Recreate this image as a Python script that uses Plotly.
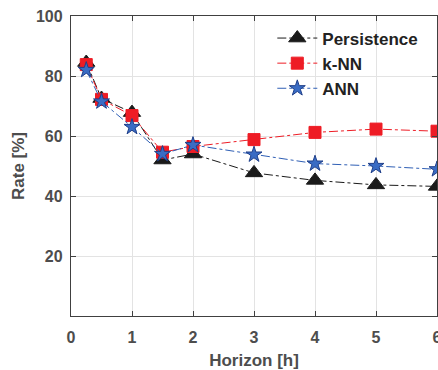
import plotly.graph_objects as go

horizon = [0.25, 0.5, 1, 1.5, 2, 3, 4, 5, 6]
persistence = [84.5, 72.5, 67.8, 52.0, 54.0, 47.7, 45.2, 43.7, 43.2]
knn = [83.8, 72.2, 66.8, 54.6, 56.5, 58.8, 61.2, 62.3, 61.6]
ann = [82.0, 71.5, 63.0, 54.0, 57.0, 53.8, 50.8, 50.0, 48.9]

x_ticks = [0, 1, 2, 3, 4, 5, 6]
y_ticks = [20, 40, 60, 80, 100]

FONT = "Liberation Sans, Arial, sans-serif"

fig = go.Figure()
fig.add_trace(go.Scatter(
    x=horizon, y=persistence, name="Persistence", mode="lines+markers",
    line=dict(color="#1a1a1a", width=1, dash="dashdot"),
    marker=dict(symbol="triangle-up", size=15, color="#1a1a1a",
                line=dict(color="#1a1a1a", width=1))))
fig.add_trace(go.Scatter(
    x=horizon, y=knn, name="k-NN", mode="lines+markers",
    line=dict(color="#ee1c25", width=1, dash="dashdot"),
    marker=dict(symbol="square", size=12, color="#ee1c25",
                line=dict(color="#ee1c25", width=1))))
fig.add_trace(go.Scatter(
    x=horizon, y=ann, name="ANN", mode="lines+markers",
    line=dict(color="#2f5fb5", width=1, dash="dashdot"),
    marker=dict(symbol="star", size=12, color="#3a6cc4",
                line=dict(color="#1f3f8a", width=1))))

axis_common = dict(
    showline=True, linecolor="#404040", linewidth=1.3, mirror="ticks",
    ticks="inside", ticklen=5, tickcolor="#404040",
    showgrid=True, gridcolor="#e3e3e3", gridwidth=1,
    zeroline=False, ticklabeloverflow="allow", automargin=False,
    tickfont=dict(family=FONT, size=16, color="#4d4d4d", weight="bold"),
)

fig.update_xaxes(range=[0, 6], tickvals=x_ticks, ticklabelstandoff=7,
                 title=dict(text="Horizon [h]", standoff=8,
                            font=dict(family=FONT, size=17, color="#4d4d4d", weight="bold")),
                 **axis_common)
fig.update_yaxes(range=[0, 100], tickvals=y_ticks, ticklabelstandoff=4,
                 title=dict(text="Rate [%]", standoff=6,
                            font=dict(family=FONT, size=17, color="#4d4d4d", weight="bold")),
                 **axis_common)

fig.update_layout(
    width=438, height=370,
    margin=dict(l=71, r=1, t=16, b=54),
    paper_bgcolor="white", plot_bgcolor="white",
    showlegend=True,
    legend=dict(x=0.55, y=0.985, xanchor="left", yanchor="top",
                bgcolor="rgba(0,0,0,0)", borderwidth=0,
                tracegroupgap=0, itemwidth=40,
                font=dict(family=FONT, size=17, color="#222222", weight="bold")),
)

fig.write_html("out.html")
